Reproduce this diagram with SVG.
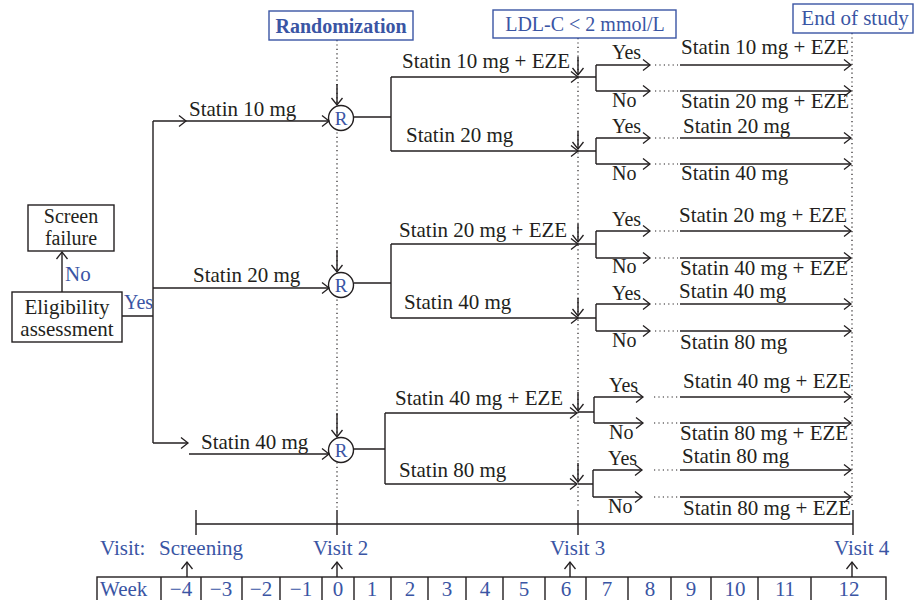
<svg xmlns="http://www.w3.org/2000/svg" width="914" height="600" viewBox="0 0 914 600">
<style>
text{font-family:"Liberation Serif","Times New Roman",serif;font-size:21px;fill:#231f20}
.b{fill:#3a55a4}
.yn{font-size:20px}
.m{text-anchor:middle}
.box{fill:#fff;stroke:#231f20;stroke-width:1.4}
.bbox{fill:#fff;stroke:#3a55a4;stroke-width:1.4}
.ln{fill:none;stroke:#231f20;stroke-width:1.4}
.ar{fill:none;stroke:#231f20;stroke-width:1.4;marker-end:url(#a)}
.dot{fill:none;stroke:#231f20;stroke-width:1.2;stroke-dasharray:1.2 3.2}
</style>
<defs>
<marker id="a" markerWidth="10" markerHeight="14" viewBox="-8 -7 10 14" refX="0" refY="0" orient="auto" markerUnits="userSpaceOnUse">
<path d="M-7,-5.5 L0,0 L-7,5.5" fill="none" stroke="#231f20" stroke-width="1.3"/>
</marker>
</defs>

<g id="guides">
<path class="dot" d="M337,40 V508 M578,38 V508 M852,33 V508"/>
</g>

<g id="rand-box"><rect class="bbox" x="269" y="11" width="144" height="29"/><text class="b m" x="341" y="33" style="font-weight:bold;font-size:20px">Randomization</text></g>
<g id="ldl-box"><rect class="bbox" x="493" y="10" width="183" height="28"/><text class="b m" x="585" y="31" style="font-size:20px">LDL-C &lt; 2 mmol/L</text></g>
<g id="eos-box"><rect class="bbox" x="793" y="4" width="120" height="29"/><text class="b m" x="855" y="25">End of study</text></g>
<g id="screen-failure"><rect class="box" x="28" y="205" width="86" height="46"/><text class="m" x="71" y="223" style="font-size:20px">Screen</text><text class="m" x="71" y="245" style="font-size:20px">failure</text></g>
<g id="eligibility"><rect class="box" x="12" y="292" width="110" height="50"/><text class="m" x="67" y="314">Eligibility</text><text class="m" x="67" y="336">assessment</text></g>
<g id="r1"><circle class="box" cx="341" cy="118" r="12.5"/><text class="b m" x="341" y="125" style="font-size:19px">R</text></g>
<g id="r2"><circle class="box" cx="341" cy="285" r="12.5"/><text class="b m" x="341" y="292" style="font-size:19px">R</text></g>
<g id="r3"><circle class="box" cx="341" cy="450" r="12.5"/><text class="b m" x="341" y="457" style="font-size:19px">R</text></g>

<g id="connectors">
<path class="ar" d="M62,292 V252"/>
<path class="ln" d="M122,316 H153 M153,121 V443"/>
<path class="ar" d="M153,121 H186"/>
<path class="ar" d="M186,121 H329"/>
<path class="ar" d="M153,288 H329"/>
<path class="ar" d="M153,443 H188"/>
<path class="ar" d="M189,454 H329"/>
<path class="ar" d="M337,84 V105"/>
<path class="ar" d="M337,250 V272"/>
<path class="ar" d="M337,413 V437"/>
<path class="ln" d="M354,117 H391 M391,77 V151 M354,283 H391 M391,244 V318 M354,449 H385 M385,413 V484"/>
<path class="ar" d="M391,77 H578"/>
<path class="ar" d="M391,151 H578"/>
<path class="ar" d="M391,244 H578"/>
<path class="ar" d="M391,318 H578"/>
<path class="ar" d="M385,413 H577"/>
<path class="ar" d="M385,484 H577"/>
<path class="ar" d="M578,57 V75"/>
<path class="ar" d="M578,131 V149"/>
<path class="ar" d="M578,224 V242"/>
<path class="ar" d="M578,298 V316"/>
<path class="ar" d="M578,392 V411"/>
<path class="ar" d="M578,463 V482"/>
<path class="ln" d="M578,77 H596 M596,65 V91 M578,151 H596 M596,138 V164 M578,244 H596 M596,231 V258 M578,318 H596 M596,304 V331 M578,412 H594 M594,397 V423 M578,484 H593 M593,470 V497"/>
<path class="ar" d="M596,65 H650"/>
<path class="ar" d="M596,91 H650"/>
<path class="ar" d="M596,138 H650"/>
<path class="ar" d="M596,164 H650"/>
<path class="ar" d="M596,231 H650"/>
<path class="ar" d="M596,258 H650"/>
<path class="ar" d="M596,304 H650"/>
<path class="ar" d="M596,331 H650"/>
<path class="ar" d="M594,397 H643"/>
<path class="ar" d="M594,423 H643"/>
<path class="ar" d="M593,470 H642"/>
<path class="ar" d="M593,497 H642"/>
<path class="dot" d="M655,65 H678 M655,91 H678 M655,138 H678 M655,164 H678 M655,231 H678 M655,258 H678 M655,304 H678 M655,331 H678 M654,397 H678 M654,423 H678 M654,470 H678 M654,497 H678"/>
<path class="ar" d="M680,65 H851"/>
<path class="ar" d="M680,91 H851"/>
<path class="ar" d="M680,138 H851"/>
<path class="ar" d="M680,164 H851"/>
<path class="ar" d="M680,231 H851"/>
<path class="ar" d="M680,258 H851"/>
<path class="ar" d="M680,304 H851"/>
<path class="ar" d="M680,331 H851"/>
<path class="ar" d="M680,397 H851"/>
<path class="ar" d="M680,423 H851"/>
<path class="ar" d="M680,470 H851"/>
<path class="ar" d="M680,497 H851"/>
<path class="ln" d="M196,524 H853 M196,510 V535 M337,510 V535 M578,510 V535 M853,510 V535"/>
<path class="ar" d="M187,577 V562"/>
<path class="ar" d="M337,577 V562"/>
<path class="ar" d="M570,577 V562"/>
<path class="ar" d="M852,577 V562"/>
</g>

<g id="labels">
<text class="b" x="65" y="281">No</text>
<text class="b yn" x="124" y="309">Yes</text>
<text x="189" y="116">Statin 10 mg</text>
<text x="193" y="282">Statin 20 mg</text>
<text x="201" y="449">Statin 40 mg</text>
<text x="402" y="68">Statin 10 mg + EZE</text>
<text x="406" y="142">Statin 20 mg</text>
<text x="399" y="237">Statin 20 mg + EZE</text>
<text x="404" y="309">Statin 40 mg</text>
<text x="395" y="405">Statin 40 mg + EZE</text>
<text x="399" y="477">Statin 80 mg</text>

<text class="yn" x="612" y="59">Yes</text>
<text class="yn" x="612" y="107">No</text>
<text class="yn" x="612" y="133">Yes</text>
<text class="yn" x="612" y="180">No</text>
<text class="yn" x="612" y="226">Yes</text>
<text class="yn" x="612" y="273">No</text>
<text class="yn" x="612" y="300">Yes</text>
<text class="yn" x="612" y="347">No</text>
<text class="yn" x="609" y="392">Yes</text>
<text class="yn" x="609" y="439">No</text>
<text class="yn" x="608" y="465">Yes</text>
<text class="yn" x="608" y="513">No</text>

<text x="681" y="54">Statin 10 mg + EZE</text>
<text x="681" y="108">Statin 20 mg + EZE</text>
<text x="683" y="133">Statin 20 mg</text>
<text x="681" y="180">Statin 40 mg</text>
<text x="679" y="222">Statin 20 mg + EZE</text>
<text x="680" y="275">Statin 40 mg + EZE</text>
<text x="679" y="298">Statin 40 mg</text>
<text x="680" y="349">Statin 80 mg</text>
<text x="683" y="388">Statin 40 mg + EZE</text>
<text x="680" y="440">Statin 80 mg + EZE</text>
<text x="682" y="463">Statin 80 mg</text>
<text x="683" y="515">Statin 80 mg + EZE</text>
</g>

<g id="visits">
<text class="b" x="100" y="555">Visit:</text>
<text class="b" x="159" y="555">Screening</text>
<text class="b" x="313" y="555">Visit 2</text>
<text class="b" x="550" y="555">Visit 3</text>
<text class="b" x="834" y="555">Visit 4</text>
</g>

<g id="week-table">
<rect class="box" x="97" y="577" width="789" height="30"/>
<path class="ln" d="M161,577 V607 M201,577 V607 M242,577 V607 M280,577 V607 M322,577 V607 M354,577 V607 M391,577 V607 M428,577 V607 M466,577 V607 M503,577 V607 M545,577 V607 M586,577 V607 M628,577 V607 M671,577 V607 M711,577 V607 M758,577 V607 M811,577 V607"/>
<text class="b" x="100" y="596">Week</text>
<text class="b m" x="181" y="596">−4</text>
<text class="b m" x="221" y="596">−3</text>
<text class="b m" x="261" y="596">−2</text>
<text class="b m" x="301" y="596">−1</text>
<text class="b m" x="338" y="596">0</text>
<text class="b m" x="372" y="596">1</text>
<text class="b m" x="410" y="596">2</text>
<text class="b m" x="447" y="596">3</text>
<text class="b m" x="485" y="596">4</text>
<text class="b m" x="524" y="596">5</text>
<text class="b m" x="566" y="596">6</text>
<text class="b m" x="607" y="596">7</text>
<text class="b m" x="650" y="596">8</text>
<text class="b m" x="691" y="596">9</text>
<text class="b m" x="735" y="596">10</text>
<text class="b m" x="785" y="596">11</text>
<text class="b m" x="849" y="596">12</text>
</g>
</svg>
